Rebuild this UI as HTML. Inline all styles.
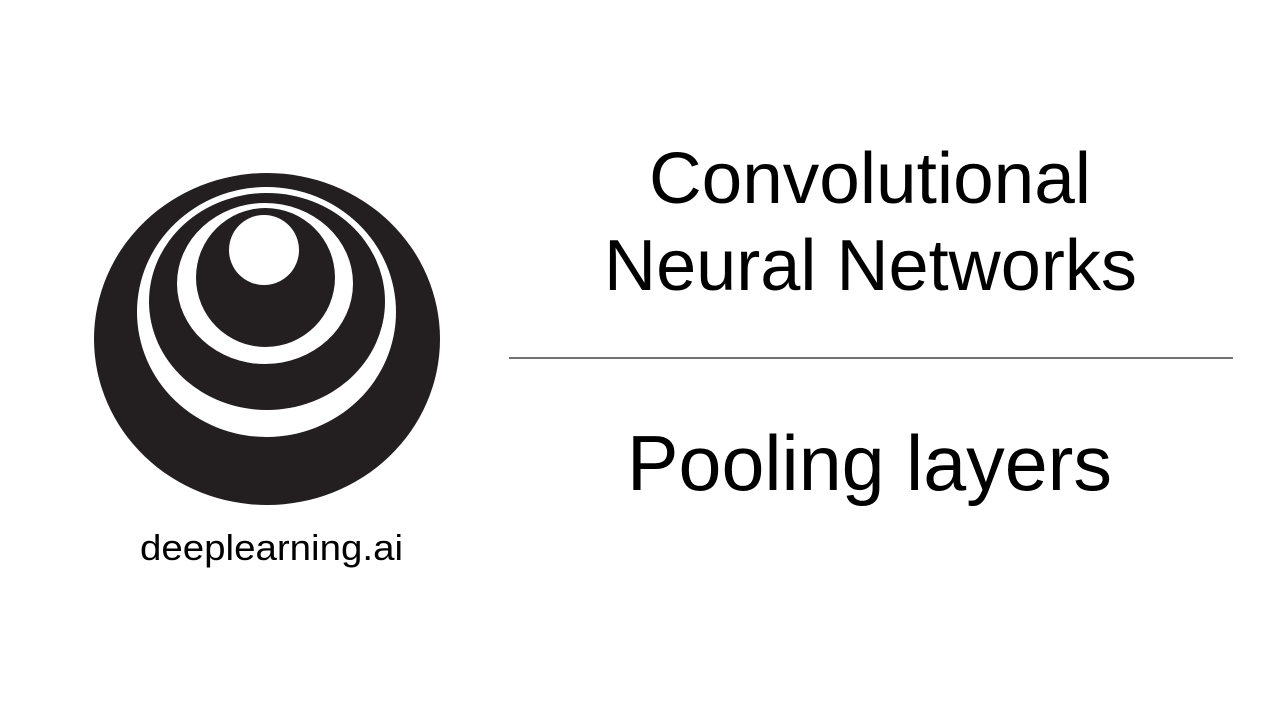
<!DOCTYPE html>
<html><head><meta charset="utf-8"><style>html,body{margin:0;padding:0;background:#fff}svg{display:block}</style></head>
<body>
<svg width="1280" height="720" viewBox="0 0 1280 720" xmlns="http://www.w3.org/2000/svg">
<rect width="1280" height="720" fill="#fff"/>
<ellipse cx="267" cy="339" rx="173" ry="166" fill="#231f20"/>
<ellipse cx="266.5" cy="312" rx="129.5" ry="125" fill="#fff"/>
<ellipse cx="267" cy="301.5" rx="118" ry="108.5" fill="#231f20"/>
<ellipse cx="265" cy="283.5" rx="88" ry="80.5" fill="#fff"/>
<ellipse cx="265.5" cy="277.5" rx="69.5" ry="69.5" fill="#231f20"/>
<circle cx="264" cy="250" r="35" fill="#fff"/>
<g font-family="Liberation Sans, sans-serif" fill="#000">
<text x="649" y="203" font-size="72" textLength="442" lengthAdjust="spacingAndGlyphs">Convolutional</text>
<text x="604" y="290" font-size="72" textLength="533" lengthAdjust="spacingAndGlyphs">Neural Networks</text>
<text x="627" y="490" font-size="78" textLength="485" lengthAdjust="spacingAndGlyphs">Pooling layers</text>
<text x="140" y="560" font-size="36" textLength="263" lengthAdjust="spacingAndGlyphs">deeplearning.ai</text>
</g>
<line x1="509" y1="358" x2="1233" y2="358" stroke="#444" stroke-width="1.5"/>
</svg>
</body></html>
